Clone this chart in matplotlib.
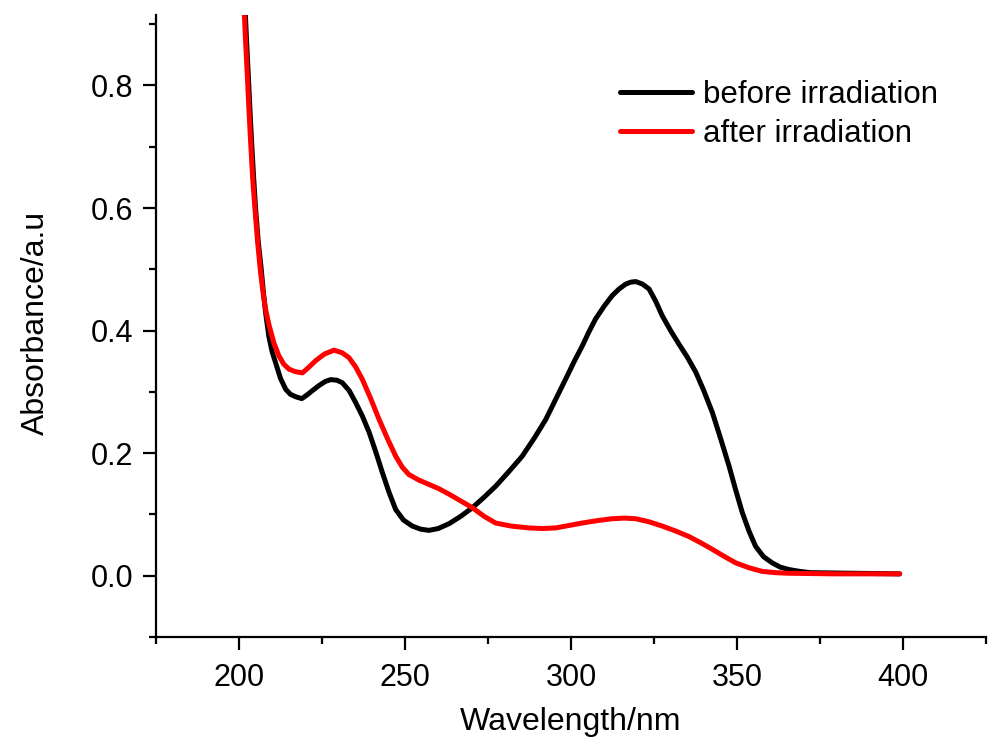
import matplotlib
matplotlib.use("Agg")
import matplotlib.pyplot as plt
from matplotlib.ticker import MultipleLocator

plt.rcParams['font.family'] = ['Liberation Sans', 'DejaVu Sans']

# spectrum before irradiation
wl_before = [201.8, 202.3, 202.8, 203.3, 203.8, 204.4, 205.0, 205.8, 206.7, 207.4,
             208.0, 209.0, 210.0, 211.0, 212.5, 214.1, 215.5, 217.1, 218.9, 220.5,
             222.1, 224.0, 226.0, 227.6, 229.5, 231.1, 233.2, 235.1, 237.2, 239.2,
             241.2, 243.2, 245.2, 247.2, 249.5, 252.2, 254.7, 257.2, 260.0, 263.3,
             266.8, 270.3, 273.8, 277.3, 281.3, 285.3, 289.0, 292.4, 295.4, 298.4,
             301.0, 303.4, 305.4, 307.4, 310.0, 312.4, 314.5, 316.5, 318.0, 319.5,
             321.5, 323.5, 325.5, 327.5, 330.0, 332.5, 335.0, 337.6, 340.0, 342.6,
             345.0, 347.6, 349.6, 351.6, 353.6, 355.6, 358.0, 360.6, 363.0, 365.7,
             369.0, 372.0, 385.0, 399.0]
abs_before = [0.93, 0.87, 0.817, 0.76, 0.708, 0.65, 0.599, 0.545, 0.50, 0.46,
              0.430, 0.39, 0.365, 0.348, 0.322, 0.304, 0.296, 0.292, 0.289, 0.295,
              0.302, 0.310, 0.317, 0.320, 0.319, 0.315, 0.302, 0.283, 0.260, 0.234,
              0.202, 0.168, 0.136, 0.108, 0.091, 0.081, 0.076, 0.074, 0.077, 0.085,
              0.097, 0.111, 0.128, 0.146, 0.170, 0.195, 0.225, 0.255, 0.288, 0.321,
              0.350, 0.375, 0.398, 0.419, 0.440, 0.457, 0.468, 0.476, 0.479, 0.480,
              0.476, 0.468, 0.448, 0.424, 0.400, 0.378, 0.357, 0.332, 0.302, 0.266,
              0.225, 0.179, 0.140, 0.103, 0.073, 0.048, 0.031, 0.021, 0.014, 0.010,
              0.007, 0.005, 0.004, 0.003]

# spectrum after irradiation
wl_after = [201.5, 202.0, 202.5, 203.0, 203.5, 204.1, 204.8, 205.6, 206.5, 207.3,
            208.0, 209.0, 210.5, 212.0, 213.5, 215.1, 217.0, 219.1, 221.0, 223.1,
            225.8, 228.6, 231.0, 233.1, 235.1, 237.1, 239.6, 242.2, 244.7, 247.2,
            249.2, 251.2, 254.2, 257.2, 260.2, 263.3, 266.8, 270.3, 273.8, 277.3,
            282.0, 287.3, 291.4, 295.4, 299.4, 303.4, 308.0, 312.4, 316.0, 319.5,
            323.5, 327.5, 331.5, 335.5, 339.0, 342.6, 346.0, 349.6, 353.6, 357.6,
            361.6, 365.7, 380.0, 399.0]
abs_after = [0.93, 0.87, 0.817, 0.76, 0.708, 0.65, 0.599, 0.545, 0.495, 0.46,
             0.435, 0.410, 0.380, 0.359, 0.345, 0.337, 0.333, 0.331, 0.340, 0.351,
             0.362, 0.368, 0.364, 0.356, 0.341, 0.321, 0.290, 0.255, 0.224, 0.195,
             0.177, 0.165, 0.156, 0.149, 0.142, 0.133, 0.122, 0.111, 0.097, 0.086,
             0.081, 0.078, 0.077, 0.078, 0.082, 0.086, 0.090, 0.093, 0.094, 0.093,
             0.088, 0.081, 0.073, 0.064, 0.054, 0.043, 0.032, 0.021, 0.013, 0.007,
             0.005, 0.004, 0.003, 0.003]

fig = plt.figure(figsize=(9.88, 7.49), dpi=100)
ax = fig.add_axes([156 / 988, 112 / 749, 830 / 988, 622 / 749])

ax.plot(wl_before, abs_before, color='black', lw=3.6, label='before irradiation',
        solid_joinstyle='round', solid_capstyle='round')
ax.plot(wl_after, abs_after, color='#ff0000', lw=3.6, label='after irradiation',
        solid_joinstyle='round', solid_capstyle='round')

ax.set_xlim(175, 425)
ax.set_ylim(-0.1, 0.915)
ax.xaxis.set_minor_locator(MultipleLocator(25))
ax.yaxis.set_minor_locator(MultipleLocator(0.1))
ax.set_xticks([200, 250, 300, 350, 400])
ax.set_xticklabels(['200', '250', '300', '350', '400'])
ax.set_yticks([0.0, 0.2, 0.4, 0.6, 0.8])
ax.set_yticklabels(['0.0', '0.2', '0.4', '0.6', '0.8'])

for s in ['top', 'right']:
    ax.spines[s].set_visible(False)
for s in ['left', 'bottom']:
    ax.spines[s].set_linewidth(1.6)

ax.tick_params(axis='y', which='major', direction='out', length=9.5, width=1.6, labelsize=22, pad=7)
ax.tick_params(axis='x', which='major', direction='out', length=9.5, width=1.6, labelsize=22, pad=9)
ax.tick_params(which='minor', direction='out', length=5, width=1.6)

ax.set_xlabel('Wavelength/nm', fontsize=23)
ax.set_ylabel('Absorbance/a.u', fontsize=23)
ax.xaxis.set_label_coords(0.5, -0.113)
ax.yaxis.set_label_coords(-0.127, 0.505)

ax.legend(loc='upper left', bbox_to_anchor=(620 / 988, 1 - 80 / 749),
          bbox_transform=fig.transFigure, frameon=False, fontsize=22.5,
          handlelength=2.3, handletextpad=0.35, labelspacing=0.28,
          borderpad=0, borderaxespad=0)

fig.savefig('out.png', dpi=100)
